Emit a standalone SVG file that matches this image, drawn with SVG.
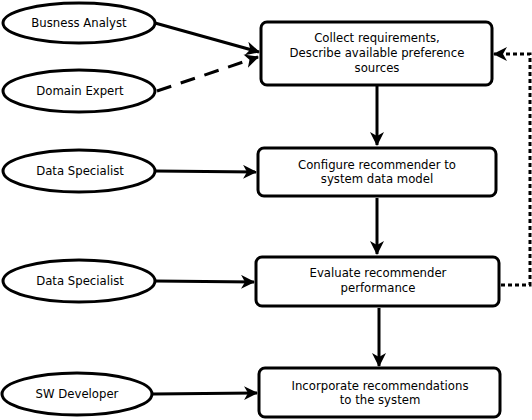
<svg xmlns="http://www.w3.org/2000/svg" width="532" height="420" viewBox="0 0 532 420">
<style>
.node ellipse, .node rect { fill: #fff; stroke: #000; stroke-width: 3; }
text { font-family: "DejaVu Sans", sans-serif; font-size: 11.7px; fill: #000; text-anchor: middle; }
.edge { fill: none; stroke: #000; stroke-width: 3; }
</style>
<defs>
<marker id="arr" markerUnits="userSpaceOnUse" markerWidth="16" markerHeight="16" refX="13" refY="7" orient="auto">
<path d="M0,0 L14,7 L0,14 L4,7 z" fill="#000"/>
</marker>
</defs>
<rect width="532" height="420" fill="#fff"/>
<g id="connectors">
<path class="edge" d="M155,23 L259,52" marker-end="url(#arr)"/>
<path class="edge" d="M157,91 L258,57" stroke-dasharray="15,10" marker-end="url(#arr)"/>
<path class="edge" d="M155,171 L256,172" marker-end="url(#arr)"/>
<path class="edge" d="M155,281 L254,282" marker-end="url(#arr)"/>
<path class="edge" d="M153,394 L257,393" marker-end="url(#arr)"/>
<path class="edge" d="M377,86 L377,145" marker-end="url(#arr)"/>
<path class="edge" d="M377,198 L377,254" marker-end="url(#arr)"/>
<path class="edge" d="M379,308 L379,366" marker-end="url(#arr)"/>
<path class="edge" d="M501,285 L530,285 L530,54 L494,54" stroke-dasharray="4,3" marker-end="url(#arr)"/>
</g>
<g id="n-ba" class="node"><ellipse cx="79" cy="23" rx="76" ry="20"/><text x="79" y="27">Busness Analyst</text></g>
<g id="n-de" class="node"><ellipse cx="79" cy="91" rx="76" ry="21"/><text x="80" y="95">Domain Expert</text></g>
<g id="n-ds1" class="node"><ellipse cx="79" cy="171" rx="76" ry="21"/><text x="80" y="175">Data Specialist</text></g>
<g id="n-ds2" class="node"><ellipse cx="79" cy="281" rx="76" ry="21"/><text x="80" y="285">Data Specialist</text></g>
<g id="n-sw" class="node"><ellipse cx="77" cy="394" rx="75" ry="21"/><text x="77" y="398">SW Developer</text></g>
<g id="b1" class="node"><rect x="261" y="22" width="231" height="63" rx="6"/><text x="377" y="42">Collect requirements,</text><text x="377" y="57">Describe available preference</text><text x="377" y="72">sources</text></g>
<g id="b2" class="node"><rect x="258" y="148" width="238" height="48" rx="6"/><text x="377" y="169">Configure recommender to</text><text x="377" y="183">system data model</text></g>
<g id="b3" class="node"><rect x="256" y="257" width="243" height="49" rx="6"/><text x="378" y="277">Evaluate recommender</text><text x="378" y="292">performance</text></g>
<g id="b4" class="node"><rect x="259" y="368" width="241" height="49" rx="6"/><text x="380" y="390">Incorporate recommendations</text><text x="380" y="404">to the system</text></g>
</svg>
